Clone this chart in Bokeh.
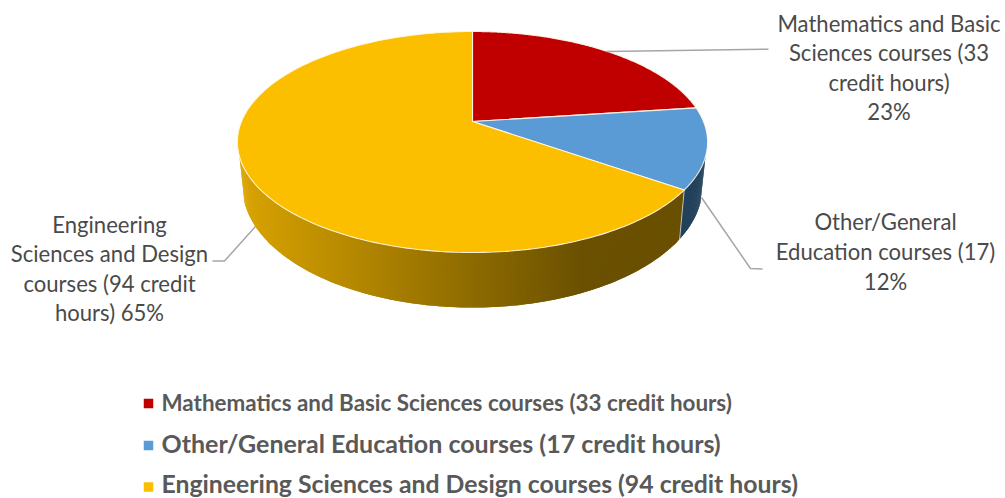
import numpy as np
from bokeh.plotting import figure
from bokeh.models import Range1d
from bokeh.core.properties import value
from bokeh.embed import file_html
from bokeh.resources import INLINE

# ---- data ----
categories = ["Mathematics and Basic Sciences courses (33 credit hours)",
              "Other/General Education courses (17 credit hours)",
              "Engineering Sciences and Design courses (94 credit hours)"]
credit_hours = [33, 17, 94]
colors = ["#C00000", "#5B9BD5", "#FCBF00"]
wall_colors = [None, "#22405A", None]
label_lines = [
    ["Mathematics and Basic", "Sciences courses (33", "credit hours)", "23%"],
    ["Other/General", "Education courses (17)", "12%"],
    ["Engineering", "Sciences and Design", "courses (94 credit", "hours) 65%"],
]

# ---- layout (screen pixels) ----
CX, CY, A, B, K = 472, 121, 231, 106.7, 0.1855
A2, B2, CY2 = 226, 117, 163.4
SILHOUETTE = 108.0
label_x = [888.5, 885, 109]
label_y = [[23, 52, 82, 111], [221, 251, 280.5], [224, 253, 283, 312]]
label_size = "22.1px"
leader_x = [[606, 768], [701, 750, 762], [255, 224, 212]]
leader_y = [[51, 48.7], [197, 268, 268.5], [226, 260.5, 260.5]]
legend_y = [402, 442, 483]
legend_sq_y = [403, 445, 486.5]
legend_sizes = ["22.4px", "25px", "24.8px"]


def top(deg):
    t = np.radians(deg)
    X, Y = np.sin(t), np.cos(t)
    w = 1 + K * Y
    return CX + A * X / w, CY - B * Y / w


def bottom(deg):
    t = np.radians(deg)
    X, Y = np.sin(t), np.cos(t)
    w = 1 + K * Y
    return CX + A2 * X / w, CY2 - B2 * Y / w


def wall_gradient(x):
    f = np.clip((x - 240) / (585 - 240), 0, 1)
    c0, c1 = np.array([218, 164, 0]), np.array([106, 80, 0])
    r, g, b = (c0 + (c1 - c0) * f).astype(int)
    return f"#{r:02x}{g:02x}{b:02x}"


p = figure(width=1005, height=498, output_backend="svg", toolbar_location=None,
           x_range=Range1d(0, 1005), y_range=Range1d(498, 0), min_border=0,
           outline_line_color=None)
p.xaxis.visible = False
p.yaxis.visible = False
p.xgrid.visible = False
p.ygrid.visible = False

total = sum(credit_hours)
edges = np.cumsum([0] + credit_hours) / total * 360.0

# side wall: overlapping strips so no seams show
xs, ys, fc = [], [], []
for i in range(len(credit_hours)):
    lo, hi = max(edges[i], SILHOUETTE), min(edges[i + 1], 360 - SILHOUETTE)
    if hi <= lo:
        continue
    steps = np.arange(lo, hi + 1e-9, 0.5)
    if steps[-1] < hi:
        steps = np.append(steps, hi)
    for a0, a1 in zip(steps[:-1], steps[1:]):
        a2 = min(a1 + 0.5, hi)
        tx0, ty0 = top(a0)
        tx1, ty1 = top(a2)
        bx0, by0 = bottom(a0)
        bx1, by1 = bottom(a2)
        xs.append([tx0, tx1, bx1, bx0])
        ys.append([ty0, ty1, by1, by0])
        fc.append(wall_colors[i] or wall_gradient((tx0 + bx0) / 2))
p.patches(xs, ys, fill_color=fc, line_color=None)

# separator between the walls
bx, by = bottom(edges[2])
tx, ty = top(edges[2])
p.line([tx, bx], [ty, by], line_color="#e8e8e8", line_width=1, line_alpha=0.7)

# top faces
for i in range(len(credit_hours)):
    ang = np.linspace(edges[i], edges[i + 1], 200)
    x, y = top(ang)
    p.patch(np.r_[CX, x], np.r_[CY, y], fill_color=colors[i],
            line_color="#fff8e8", line_width=1.1, line_alpha=0.9)

# leaders
for lx, ly in zip(leader_x, leader_y):
    p.line(lx, ly, line_color="#a6a6a6", line_width=1.5)

# labels
for lines, x, yy in zip(label_lines, label_x, label_y):
    p.text([x] * len(lines), yy, text=lines, text_align="center", text_baseline="alphabetic",
           text_font=value("Lato"), text_font_size=label_size, text_color="#4a4a4a")

# legend
for cat, col, y, sy, fs in zip(categories, colors, legend_y, legend_sq_y, legend_sizes):
    p.scatter([148], [sy], marker="square", size=9.5, fill_color=col, line_color=None)
    p.text([161], [y], text=[cat], text_align="left", text_baseline="alphabetic",
           text_font=value("Lato"), text_font_size=fs, text_font_style="bold", text_color="#595959")

open("out.html", "w").write(file_html(p, INLINE))
